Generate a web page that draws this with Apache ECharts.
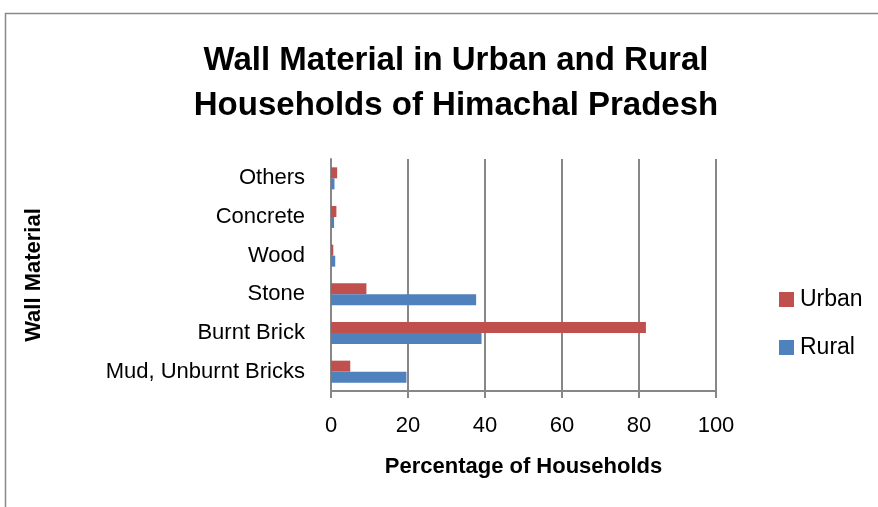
<!DOCTYPE html>
<html>
<head>
<meta charset="utf-8">
<script src="https://cdn.jsdelivr.net/npm/echarts@6/dist/echarts.min.js"></script>
<style>
  html, body { margin: 0; padding: 0; background: #fff; }
  #main { width: 878px; height: 507px; }
</style>
</head>
<body>
<div id="main"></div>
<script type="text/javascript">
// categories bottom -> top
var categories = ['Mud, Unburnt Bricks', 'Burnt Brick', 'Stone', 'Wood', 'Concrete', 'Others'];
var urban = [5.0, 81.8, 9.2, 0.6, 1.4, 1.6];
var rural = [19.6, 39.1, 37.7, 1.1, 0.8, 0.9];
var xTicks = [0, 20, 40, 60, 80, 100];

var FONT = '"Liberation Sans", Arial, sans-serif';

var chart = echarts.init(document.getElementById('main'));

var option = {
    backgroundColor: '#fff',
    animation: false,
    textStyle: { fontFamily: FONT, color: '#000' },
    title: {
        text: 'Wall Material in Urban and Rural\nHouseholds of Himachal Pradesh',
        left: 451,
        top: 33,
        textAlign: 'center',
        textStyle: { fontFamily: FONT, fontSize: 33, fontWeight: 'bold', color: '#000', lineHeight: 45 }
    },
    legend: {
        orient: 'vertical',
        left: 774,
        top: 283,
        icon: 'rect',
        itemWidth: 15,
        itemHeight: 15,
        itemGap: 25,
        data: ['Urban', 'Rural'],
        textStyle: { fontFamily: FONT, fontSize: 23, color: '#000', padding: [0, 0, 0, 1] }
    },
    graphic: [{
        type: 'rect',
        shape: { x: 5.5, y: 13.5, width: 1000, height: 1000 },
        style: { fill: 'none', stroke: '#898989', lineWidth: 1.5 },
        silent: true
    }],
    grid: { left: 331, right: 162, top: 159, bottom: 116 },
    xAxis: {
        type: 'value',
        min: xTicks[0],
        max: xTicks[xTicks.length - 1],
        interval: 20,
        name: 'Percentage of Households',
        nameLocation: 'middle',
        nameGap: 65,
        nameTextStyle: { fontFamily: FONT, fontSize: 22, fontWeight: 'bold', color: '#000' },
        axisLine: { show: true, lineStyle: { color: '#878787', width: 2 } },
        axisTick: { show: true, length: 7, lineStyle: { color: '#878787', width: 2 } },
        axisLabel: { fontFamily: FONT, fontSize: 22, color: '#000', margin: 24 },
        splitLine: { show: true, lineStyle: { color: '#878787', width: 2 } }
    },
    yAxis: {
        type: 'category',
        data: categories,
        name: 'Wall Material',
        nameLocation: 'middle',
        nameGap: 286,
        nameRotate: 90,
        nameTextStyle: { fontFamily: FONT, fontSize: 22, fontWeight: 'bold', color: '#000' },
        axisLine: { show: true, lineStyle: { color: '#878787', width: 2 } },
        axisTick: { show: false },
        axisLabel: { fontFamily: FONT, fontSize: 22, color: '#000', margin: 26 },
        splitLine: { show: false }
    },
    series: [
        {
            name: 'Urban',
            type: 'bar',
            data: urban,
            barWidth: 11,
            barGap: '0%',
            itemStyle: { color: '#C0504D' }
        },
        {
            name: 'Rural',
            type: 'bar',
            data: rural,
            barWidth: 11,
            barGap: '0%',
            itemStyle: { color: '#4F81BD' }
        }
    ]
};

chart.setOption(option);
</script>
</body>
</html>
